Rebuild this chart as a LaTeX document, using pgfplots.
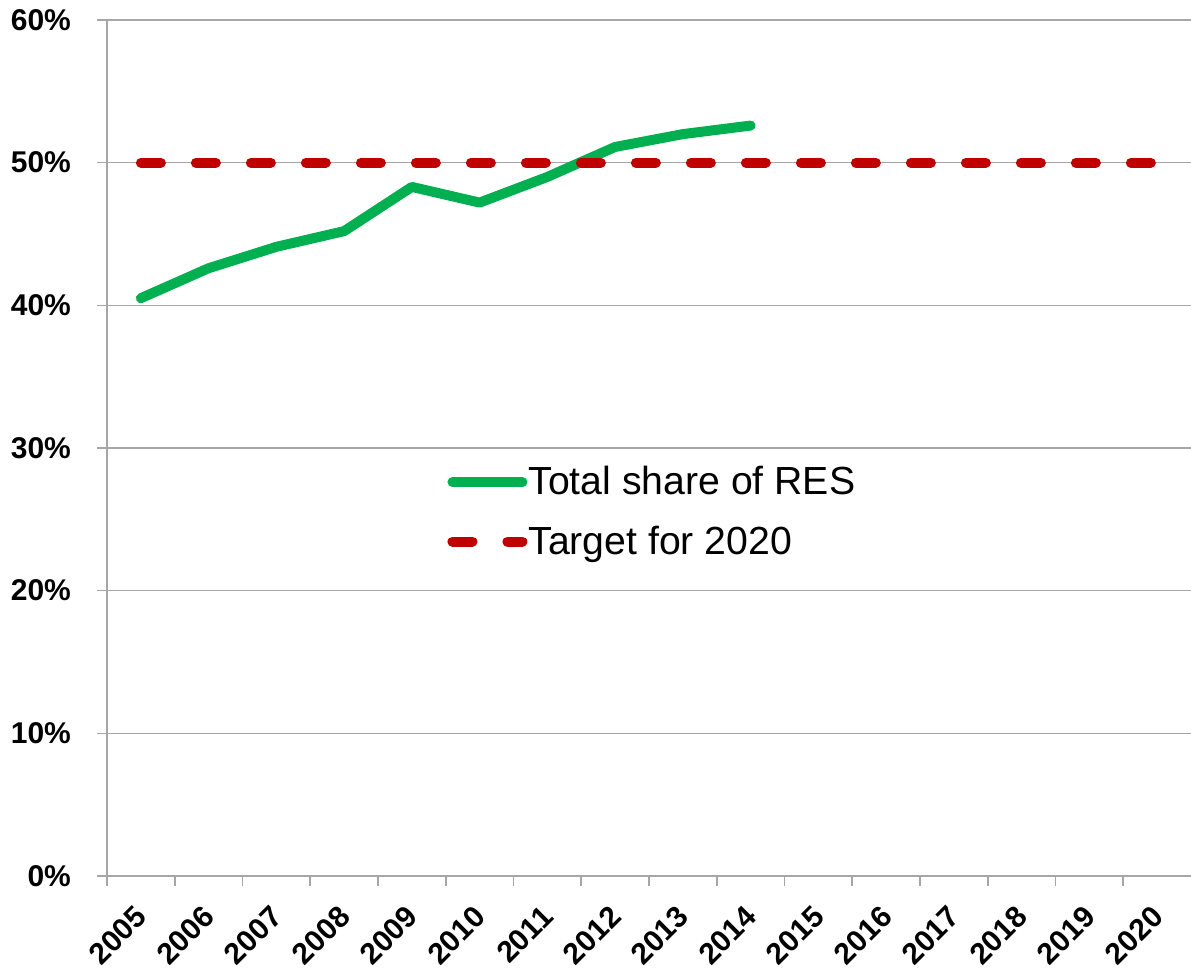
\documentclass[border=0pt]{standalone}
\usepackage{fontspec}
\setmainfont{Liberation Sans}
\usepackage{pgfplots}
\pgfplotsset{compat=1.18}
\definecolor{resgreen}{HTML}{00B050}
\definecolor{targetred}{HTML}{C00000}
\definecolor{gridgray}{HTML}{A6A6A6}

\begin{document}
\begin{tikzpicture}
\begin{axis}[
  scale only axis, width=542pt, height=428pt,
  at={(0,0)}, anchor=south west,
  xmin=-0.5, xmax=15.5, ymin=0, ymax=60,
  axis lines*=left,
  axis line style={gridgray, line width=0.8pt},
  tick align=outside, major tick length=5pt,
  tick style={gridgray, line width=0.8pt},
  ytick={0,10,...,60},
  yticklabels={0\%,10\%,20\%,30\%,40\%,50\%,60\%},
  ymajorgrids, grid style={gridgray, line width=0.8pt},
  xtick={-0.5,0.5,...,14.5}, xticklabels={},
  extra x ticks={0,...,15},
  extra x tick labels={2005,2006,2007,2008,2009,2010,2011,2012,2013,2014,2015,2016,2017,2018,2019,2020},
  extra x tick style={major tick length=0pt, grid=none},
  ticklabel style={font=\fontsize{15}{17}\selectfont\bfseries},
  xticklabel style={xshift=2.7pt, yshift=-15.3pt, rotate=45, anchor=east},
  yticklabel style={xshift=-9.5pt},
  legend style={draw=none, fill=none, at={(rel axis cs:0.3137,0.48)}, anchor=north west,
    font=\fontsize{19.6}{23}\selectfont, row sep=13pt, inner sep=0pt,
    nodes={inner sep=0.5pt}},
  legend cell align=left,
  legend image code/.code={\draw[#1] (0pt,0pt) -- (35pt,0pt);},
]
\addplot[resgreen, line width=5pt, line join=round, line cap=round] coordinates {
  (0,40.5) (1,42.6) (2,44.1) (3,45.2) (4,48.3) (5,47.2) (6,49.0) (7,51.1) (8,52.0) (9,52.6)
};
\addlegendentry{Total share of RES}
\addplot[targetred, line width=5pt, line cap=round, dash pattern=on 10pt off 17.5pt] coordinates {
  (0,50) (15,50)
};
\addlegendentry{Target for 2020}
\end{axis}
\pgfresetboundingbox
\path[use as bounding box] (-53.5pt,-48.5pt) rectangle (542pt,438pt);
\end{tikzpicture}
\end{document}
